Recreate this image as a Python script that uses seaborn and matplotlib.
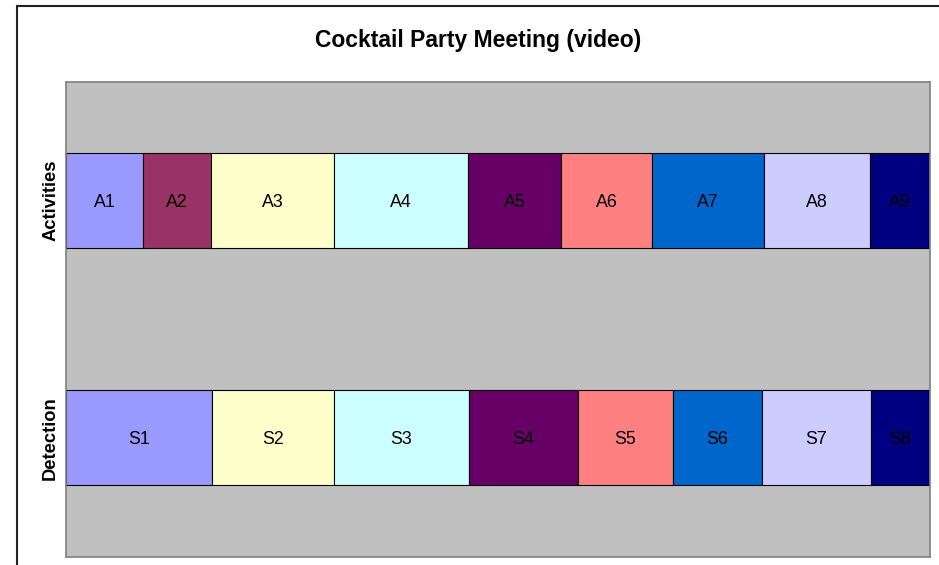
import matplotlib
matplotlib.use("Agg")
import matplotlib.pyplot as plt
import seaborn as sns
import pandas as pd
from matplotlib.patches import Rectangle

# ---- data ----
rows = ["Activities", "Detection"]
activity_labels = ["A1", "A2", "A3", "A4", "A5", "A6", "A7", "A8", "A9"]
activity_durations = [77, 68, 123, 134, 93, 91, 112, 106, 60]
detection_labels = ["S1", "S2", "S3", "S4", "S5", "S6", "S7", "S8"]
detection_durations = [146, 122, 135, 109, 95, 89, 109, 59]
activity_colors = ["#9999FF", "#993366", "#FFFFCC", "#CCFFFF", "#660066",
                   "#FF8080", "#0066CC", "#CCCCFF", "#000080"]
detection_colors = ["#9999FF", "#FFFFCC", "#CCFFFF", "#660066",
                    "#FF8080", "#0066CC", "#CCCCFF", "#000080"]
title = "Cocktail Party Meeting (video)"

sns.set_style("white")
plt.rcParams["font.family"] = ["Liberation Sans", "DejaVu Sans"]
plt.rcParams["text.color"] = "black"
plt.rcParams["ytick.color"] = "black"
plt.rcParams["ytick.labelcolor"] = "black"

fig = plt.figure(figsize=(9.39, 5.65), dpi=100)
ax = fig.add_axes([66 / 939, 1 - 556.5 / 565, 864 / 939, 474.5 / 565])
ax.set_facecolor("#C0C0C0")

def draw_row(row, labels, durations, colors):
    start = 0
    for lab, dur, col in zip(labels, durations, colors):
        df = pd.DataFrame({"row": [row], "dur": [dur]})
        sns.barplot(data=df, x="dur", y="row", order=rows, orient="h",
                    left=start, color=col, saturation=1, width=0.4,
                    edgecolor="black", linewidth=0.8, ax=ax, errorbar=None)
        ax.text(start + dur / 2, rows.index(row), lab, ha="center",
                va="center_baseline", fontsize=12.8, color="black")
        start += dur

draw_row("Activities", activity_labels, activity_durations, activity_colors)
draw_row("Detection", detection_labels, detection_durations, detection_colors)

ax.set_xlim(0, sum(activity_durations))
ax.set_ylim(1.5, -0.5)
ax.set_xticks([])
ax.set_xlabel("")
ax.set_ylabel("")
ax.set_yticks([0, 1])
ax.set_yticklabels(rows, rotation=90, va="center", fontweight="bold",
                   fontsize=13.2, color="black")
ax.tick_params(axis="y", length=0, pad=5)
for s in ax.spines.values():
    s.set_visible(True)
    s.set_color("#808080")
    s.set_linewidth(1.2)

fig.text(478 / 939, 1 - 40 / 565, title, ha="center", va="center",
         fontsize=16.5, fontweight="bold", color="black")

fig.patches.append(Rectangle((17 / 939, -0.1), 2, 1.1 - 6 / 565,
                             transform=fig.transFigure, fill=False,
                             edgecolor="#222222", linewidth=1.5))

fig.savefig("out.png", dpi=100)
